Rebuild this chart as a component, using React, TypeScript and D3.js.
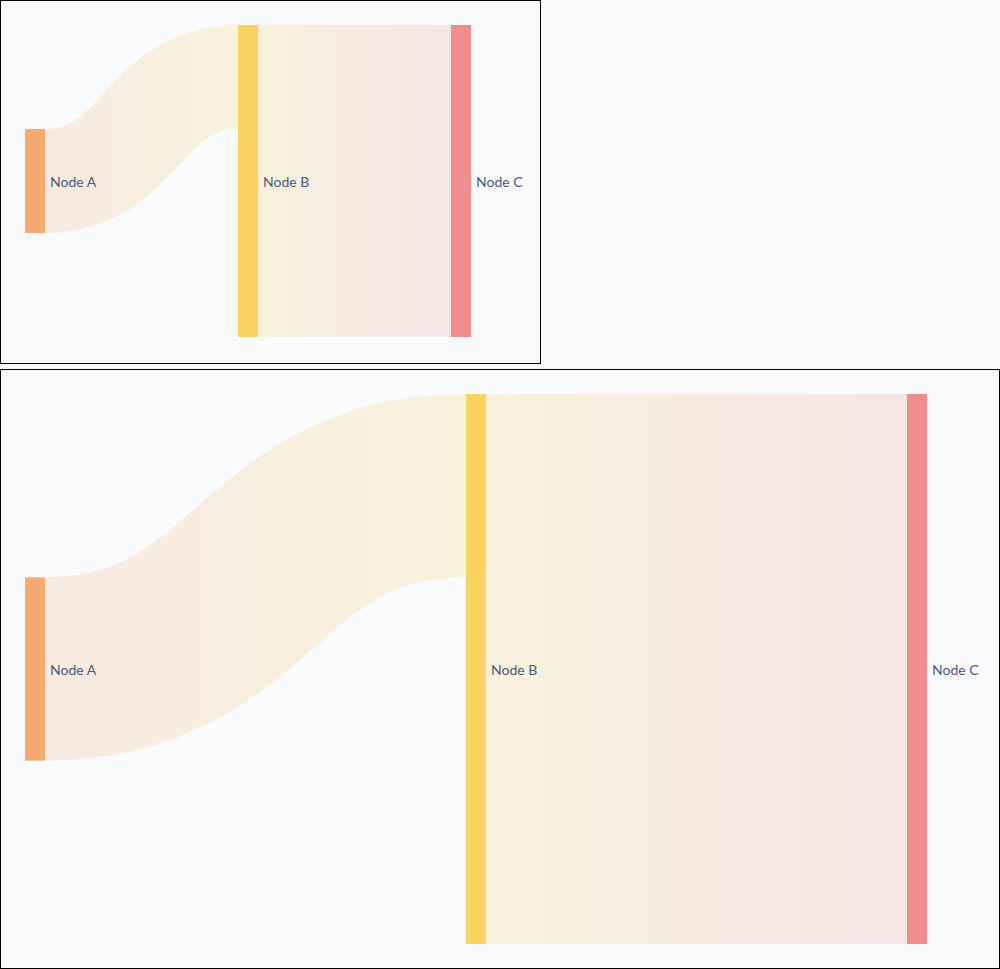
import React, { useRef, useEffect } from 'react';
import * as d3 from 'd3';

// nodes and flows
const nodeNames = ['Node A', 'Node B', 'Node C'];
const nodeColors = ['#f4aa72', '#f9d261', '#f08c8b'];
const linkSources = [0, 1];
const linkTargets = [1, 2];
const linkValues = [10, 30];

type Box = { width: number; height: number; x0: number; y0: number; x1: number; y1: number };

const SankeyBox = ({ box, id }: { box: Box; id: string }) => {
    const ref = useRef<SVGSVGElement>(null);

    useEffect(() => {
        const svg = d3.select(ref.current);
        svg.selectAll('*').remove();

        const nodeWidth = 20;

        // column (depth) of each node from the links
        const depth = nodeNames.map(() => 0);
        linkSources.forEach((s, i) => {
            depth[linkTargets[i]] = Math.max(depth[linkTargets[i]], depth[s] + 1);
        });
        const nodeValue = nodeNames.map((_, n) => {
            const inV = d3.sum(linkValues.filter((_, i) => linkTargets[i] === n));
            const outV = d3.sum(linkValues.filter((_, i) => linkSources[i] === n));
            return Math.max(inV, outV);
        });

        const xScale = d3.scaleLinear()
            .domain([0, d3.max(depth) as number])
            .range([box.x0, box.x1 - nodeWidth]);
        const hScale = d3.scaleLinear()
            .domain([0, d3.max(nodeValue) as number])
            .range([0, box.y1 - box.y0]);

        const cy = (box.y0 + box.y1) / 2;
        const nodes = nodeNames.map((name, i) => {
            const h = hScale(nodeValue[i]);
            return {
                name,
                color: nodeColors[i],
                x0: xScale(depth[i]),
                x1: xScale(depth[i]) + nodeWidth,
                y0: cy - h / 2,
                y1: cy + h / 2,
                outY: cy - h / 2,
                inY: cy - h / 2,
            };
        });

        const links = linkValues.map((v, i) => {
            const s = nodes[linkSources[i]];
            const t = nodes[linkTargets[i]];
            const w = hScale(v);
            const sy = s.outY + w / 2;
            const ty = t.inY + w / 2;
            s.outY += w;
            t.inY += w;
            return { s, t, w, sy, ty, i };
        });

        svg.append('rect')
            .attr('x', 0.5)
            .attr('y', 0.5)
            .attr('width', box.width - 1)
            .attr('height', box.height - 1)
            .attr('fill', '#f8fafc')
            .attr('stroke', '#000')
            .attr('stroke-width', 1);

        const defs = svg.append('defs');
        links.forEach((l) => {
            const g = defs.append('linearGradient')
                .attr('id', `${id}-grad-${l.i}`)
                .attr('gradientUnits', 'userSpaceOnUse')
                .attr('x1', l.s.x1)
                .attr('x2', l.t.x0);
            g.append('stop').attr('offset', '0%').attr('stop-color', l.s.color);
            g.append('stop').attr('offset', '100%').attr('stop-color', l.t.color);
        });

        const linkPath = d3.linkHorizontal<any, [number, number]>()
            .source((d: any) => [d.s.x1, d.sy])
            .target((d: any) => [d.t.x0, d.ty]);

        svg.append('g')
            .attr('fill', 'none')
            .selectAll('path')
            .data(links)
            .enter()
            .append('path')
            .attr('d', (d: any) => linkPath(d))
            .attr('stroke', (d) => `url(#${id}-grad-${d.i})`)
            .attr('stroke-opacity', 0.2)
            .attr('stroke-width', (d) => Math.max(1, d.w));

        svg.append('g')
            .selectAll('rect')
            .data(nodes)
            .enter()
            .append('rect')
            .attr('x', (d) => d.x0)
            .attr('y', (d) => d.y0)
            .attr('width', (d) => d.x1 - d.x0)
            .attr('height', (d) => d.y1 - d.y0)
            .attr('fill', (d) => d.color);

        svg.append('g')
            .selectAll('text')
            .data(nodes)
            .enter()
            .append('text')
            .attr('x', (d) => d.x1 + 5)
            .attr('y', (d) => (d.y0 + d.y1) / 2 + 1)
            .attr('dy', '0.35em')
            .attr('text-anchor', 'start')
            .style('font-family', 'Lato, sans-serif')
            .style('font-size', '14px')
            .style('fill', '#4d5878')
            .text((d) => d.name);
    }, [box, id]);

    return <svg ref={ref} width={box.width} height={box.height} style={{ display: 'block' }}></svg>;
};

const smallBox: Box = { width: 541, height: 364, x0: 25, y0: 25, x1: 471, y1: 337 };
const largeBox: Box = { width: 1000, height: 600, x0: 25, y0: 25, x1: 927, y1: 575 };

export default function App() {
    return (
        <div style={{ position: 'absolute', left: 0, top: 0, width: 1000, height: 969, background: '#f8fafc' }}>
            <SankeyBox box={smallBox} id="small" />
            <div style={{ height: 5 }}></div>
            <SankeyBox box={largeBox} id="large" />
        </div>
    );
}
